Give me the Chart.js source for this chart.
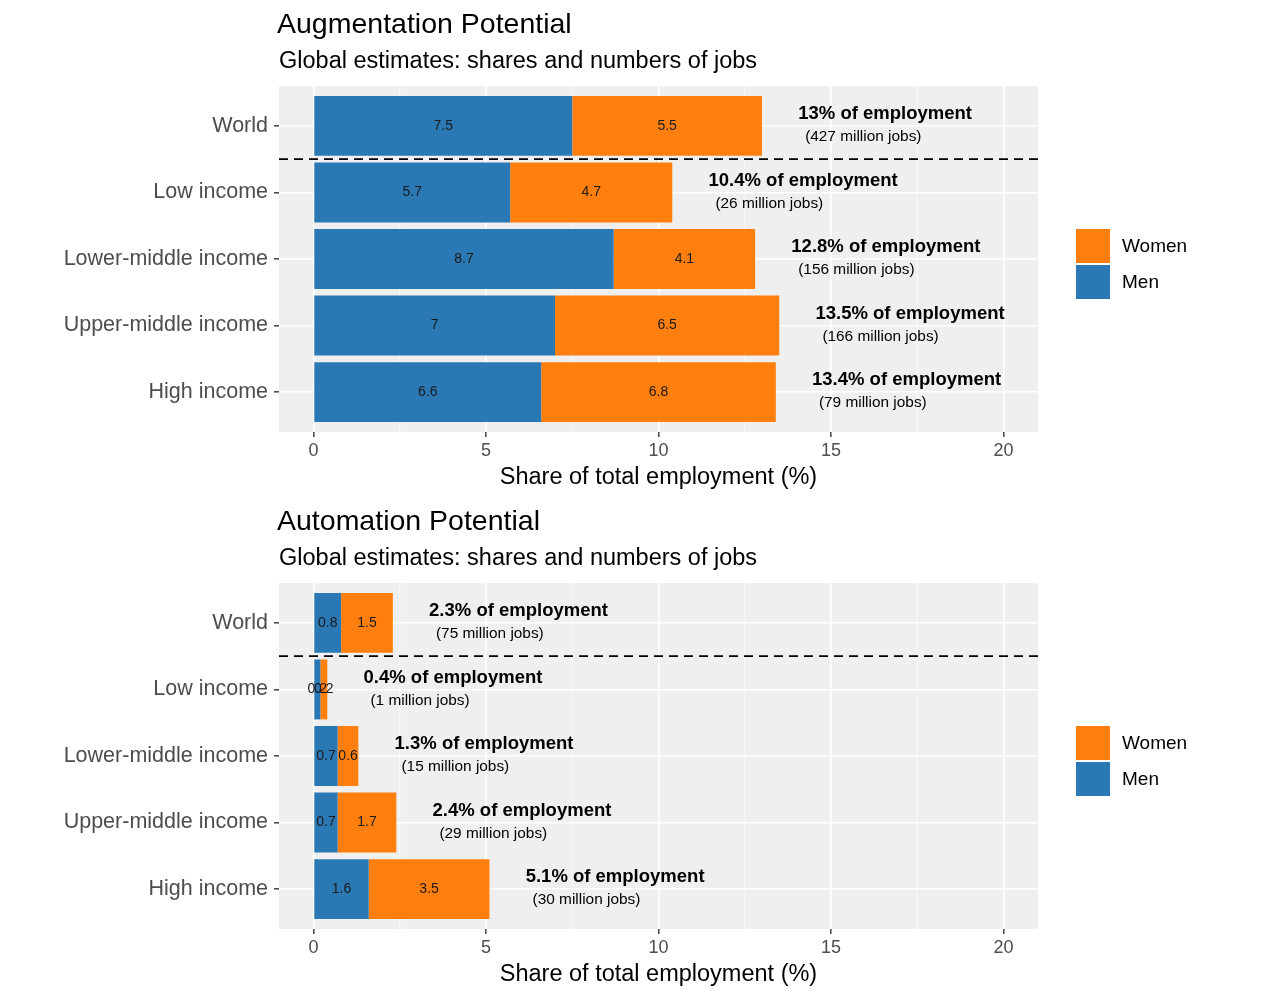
<!DOCTYPE html>
<html><head><meta charset="utf-8">
<script src="https://cdn.jsdelivr.net/npm/chart.js@4"></script>
<style>
html,body{margin:0;padding:0;background:#fff;width:1280px;height:993px;overflow:hidden}
.wrap{position:absolute;left:0;width:1280px;height:496px}
canvas{display:block}
</style></head><body>
<div class="wrap" style="top:0"><canvas id="c1" width="1280" height="496"></canvas></div>
<div class="wrap" style="top:497px"><canvas id="c2" width="1280" height="496"></canvas></div>
<script>
const categories = ['World', 'Low income', 'Lower-middle income', 'Upper-middle income', 'High income'];
const xTicks = [0, 5, 10, 15, 20];

const augMen = [7.5, 5.7, 8.7, 7, 6.6];
const augWomen = [5.5, 4.7, 4.1, 6.5, 6.8];
const augTotal = [13, 10.4, 12.8, 13.5, 13.4];
const augJobs = [427, 26, 156, 166, 79];

const autoMen = [0.8, 0.2, 0.7, 0.7, 1.6];
const autoWomen = [1.5, 0.2, 0.6, 1.7, 3.5];
const autoTotal = [2.3, 0.4, 1.3, 2.4, 5.1];
const autoJobs = [75, 1, 15, 29, 30];

const FAM = '"Liberation Sans", Arial, Helvetica, sans-serif';
const MEN_COLOR = '#2a78b4';
const WOMEN_COLOR = '#ff7f0e';

function makeChart(id, title, subtitle, men, women, totals, jobs) {
  const deco = {
    id: 'deco',
    beforeDraw(chart) {
      const {ctx, chartArea: a} = chart;
      ctx.save();
      ctx.fillStyle = '#efefef';
      ctx.fillRect(a.left, a.top, a.right - a.left, a.bottom - a.top);
      ctx.restore();
    },
    beforeDatasetsDraw(chart) {
      const {ctx, chartArea: a, scales: {x}} = chart;
      ctx.save();
      ctx.strokeStyle = 'rgba(255,255,255,0.8)';
      ctx.lineWidth = 0.8;
      [2.5, 7.5, 12.5, 17.5].forEach(v => {
        const px = x.getPixelForValue(v);
        ctx.beginPath(); ctx.moveTo(px, a.top); ctx.lineTo(px, a.bottom); ctx.stroke();
      });
      ctx.restore();
    },
    afterDatasetsDraw(chart) {
      const {ctx, chartArea: a, scales: {x, y}} = chart;
      ctx.save();
      ctx.font = '14px ' + FAM;
      ctx.fillStyle = '#1a1a1a';
      ctx.textAlign = 'center';
      ctx.textBaseline = 'middle';
      chart.data.datasets.forEach((ds, di) => {
        const meta = chart.getDatasetMeta(di);
        meta.data.forEach((bar, i) => {
          const p = bar.getCenterPoint();
          ctx.fillText(String(ds.data[i].x), p.x, p.y);
        });
      });
      ctx.strokeStyle = '#000';
      ctx.lineWidth = 1.8;
      ctx.setLineDash([9, 6]);
      const yd = y.getPixelForValue(1.5);
      ctx.beginPath(); ctx.moveTo(a.left, yd); ctx.lineTo(a.right, yd); ctx.stroke();
      ctx.setLineDash([]);
      ctx.textAlign = 'left';
      totals.forEach((t, i) => {
        const yc = y.getPixelForValue(i + 1);
        ctx.font = 'bold 18.5px ' + FAM;
        ctx.fillStyle = '#000';
        ctx.fillText(t + '% of employment', x.getPixelForValue(t + 1.05), yc - 12);
        ctx.font = '15.4px ' + FAM;
        ctx.fillText('(' + jobs[i] + ' million jobs)', x.getPixelForValue(t + 1.25), yc + 11);
      });
      ctx.restore();
    },
    afterDraw(chart) {
      const {ctx} = chart;
      ctx.save();
      ctx.fillStyle = '#000';
      ctx.textAlign = 'left';
      ctx.textBaseline = 'middle';
      ctx.font = '28.5px ' + FAM;
      ctx.fillText(title, 277, 25);
      ctx.font = '23.5px ' + FAM;
      ctx.fillText(subtitle, 279, 62);
      const items = [chart.data.datasets[1], chart.data.datasets[0]];
      items.forEach((ds, k) => {
        const by = 229 + k * 36;
        ctx.fillStyle = ds.backgroundColor;
        ctx.fillRect(1076, by, 34, 34);
        ctx.fillStyle = '#000';
        ctx.font = '19px ' + FAM;
        ctx.fillText(ds.label, 1122, by + 18);
      });
      ctx.restore();
    }
  };

  return new Chart(document.getElementById(id), {
    type: 'bar',
    data: {
      datasets: [
        {label: 'Men', data: men.map((v, i) => ({x: v, y: i + 1})), backgroundColor: MEN_COLOR, borderWidth: 0, categoryPercentage: 1, barPercentage: 0.9},
        {label: 'Women', data: women.map((v, i) => ({x: v, y: i + 1})), backgroundColor: WOMEN_COLOR, borderWidth: 0, categoryPercentage: 1, barPercentage: 0.9}
      ]
    },
    options: {
      indexAxis: 'y',
      animation: false,
      responsive: false,
      devicePixelRatio: 1,
      layout: {padding: {top: 86, right: 242, bottom: 4, left: 0}},
      scales: {
        x: {
          type: 'linear', stacked: true, min: -1, max: 21,
          afterBuildTicks: s => { s.ticks = xTicks.map(v => ({value: v})); },
          grid: {color: '#ffffff', lineWidth: 1.6, tickColor: '#4d4d4d', tickLength: 5, drawTicks: true},
          border: {display: false},
          ticks: {font: {size: 18, family: FAM}, color: '#4d4d4d', padding: 3, maxRotation: 0},
          title: {display: true, text: 'Share of total employment (%)', font: {size: 23.5, family: FAM}, color: '#000', padding: {top: 0, bottom: 0}},
          afterFit: s => { s.height = 60; }
        },
        y: {
          type: 'linear', stacked: true, min: 0.4, max: 5.6, reverse: true, offset: false,
          afterBuildTicks: s => { s.ticks = categories.map((c, i) => ({value: i + 1})); },
          ticks: {callback: v => categories[v - 1], font: {size: 21.5, family: FAM}, color: '#4d4d4d', padding: 6},
          grid: {color: '#ffffff', lineWidth: 1.6, tickColor: '#4d4d4d', tickLength: 5, offset: false},
          border: {display: false},
          afterFit: s => { s.width = 279; }
        }
      },
      plugins: {legend: {display: false}, tooltip: {enabled: false}, title: {display: false}}
    },
    plugins: [deco]
  });
}

makeChart('c1', 'Augmentation Potential', 'Global estimates: shares and numbers of jobs', augMen, augWomen, augTotal, augJobs);
makeChart('c2', 'Automation Potential', 'Global estimates: shares and numbers of jobs', autoMen, autoWomen, autoTotal, autoJobs);
</script>
</body></html>
